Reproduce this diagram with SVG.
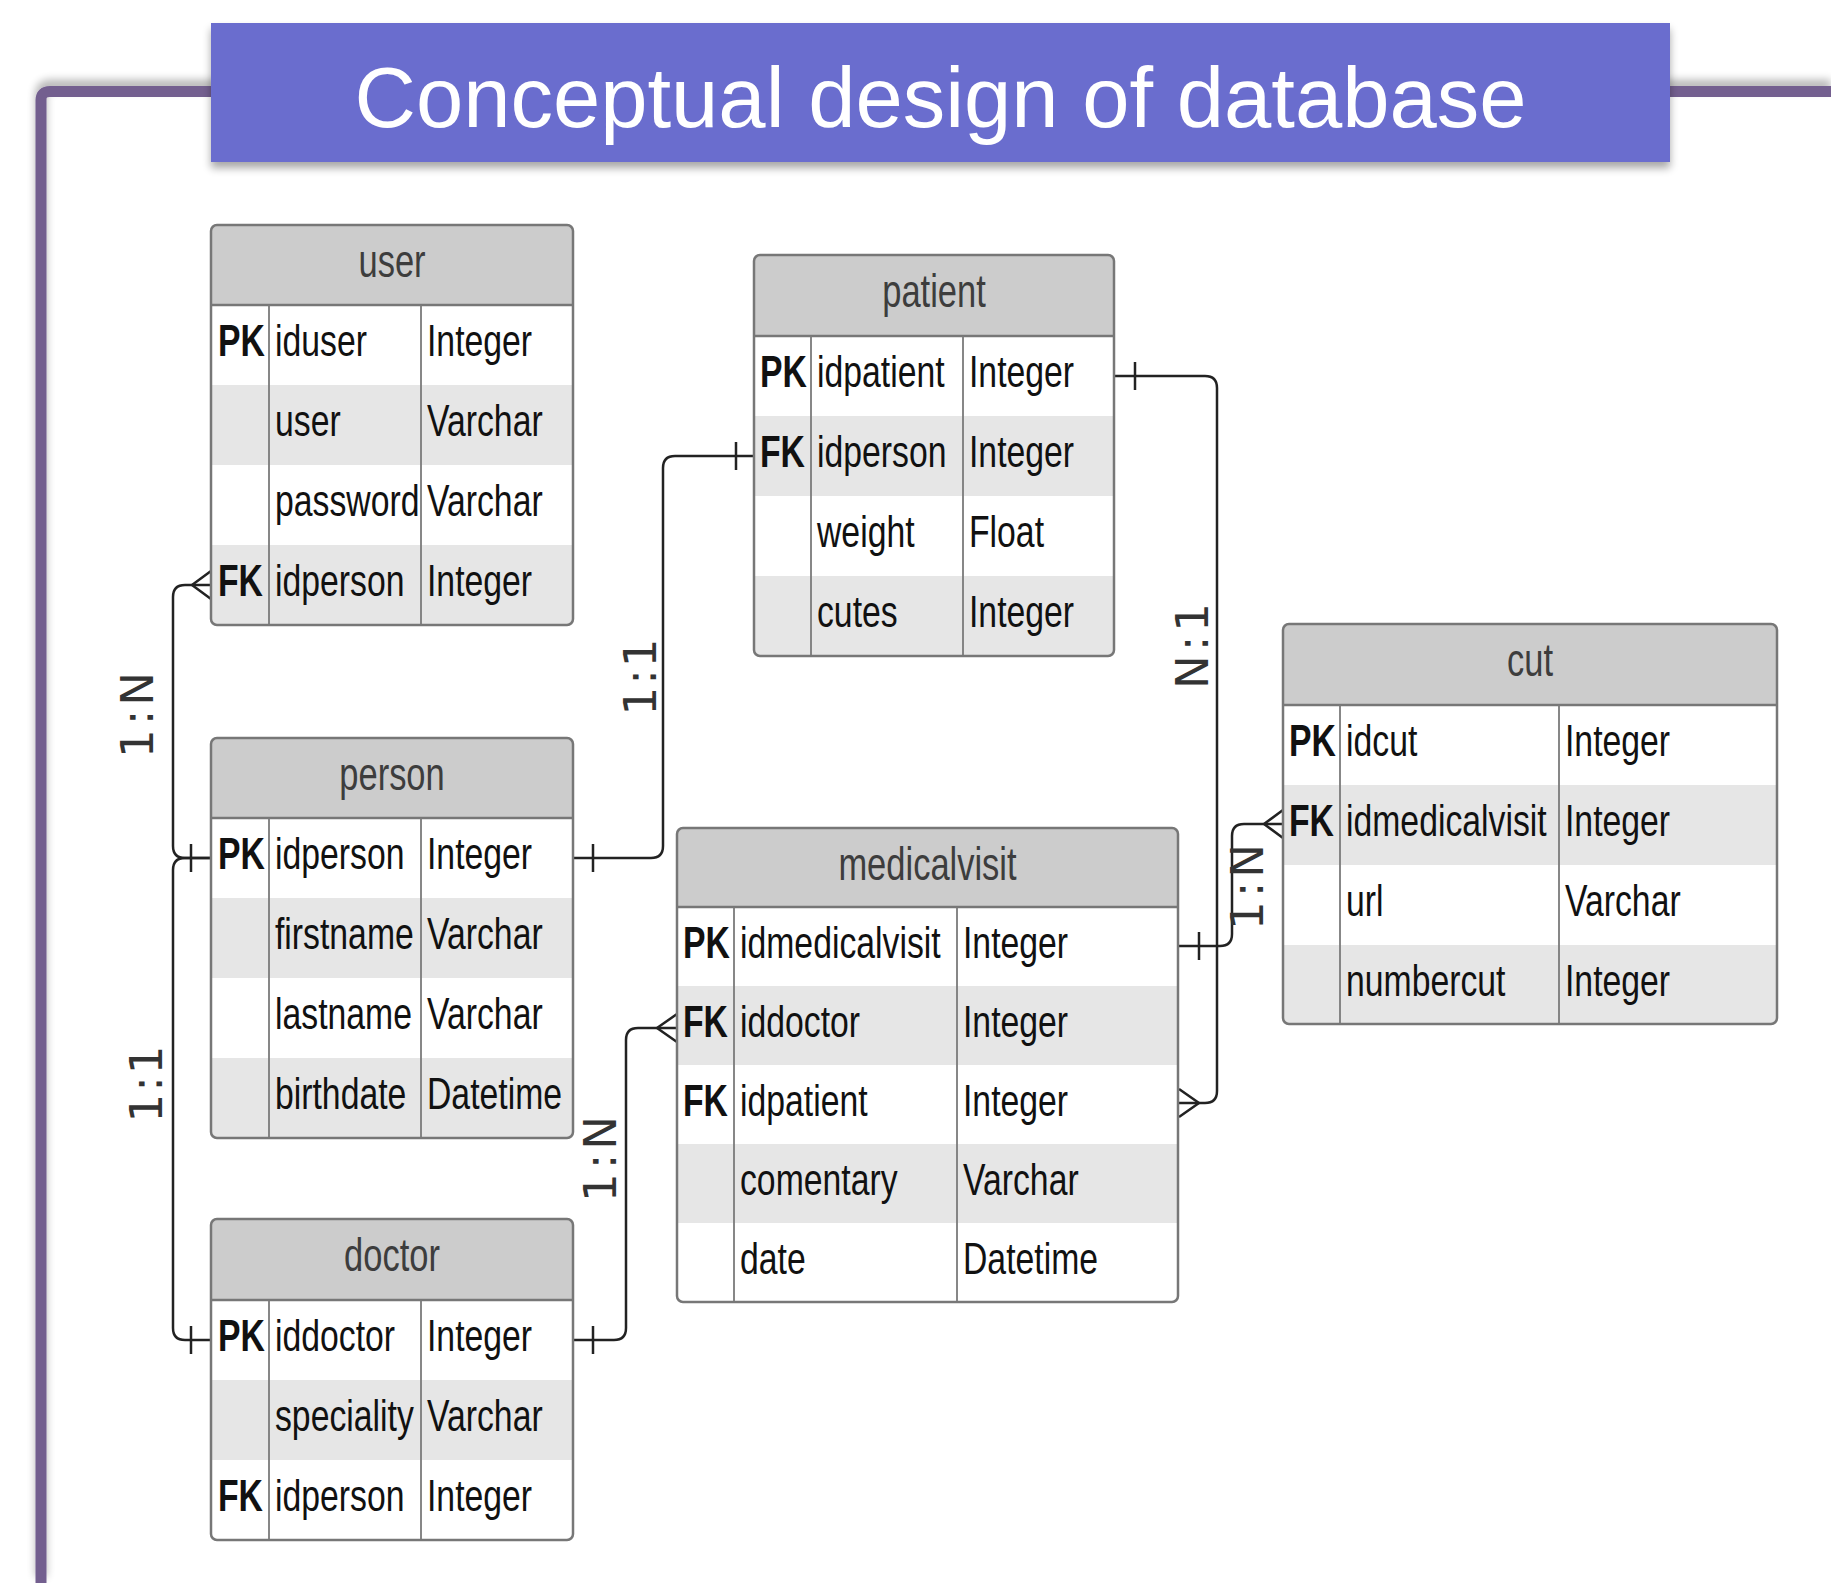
<svg xmlns="http://www.w3.org/2000/svg" width="1831" height="1583" viewBox="0 0 1831 1583">
<style>
.bg{fill:#ffffff}
.hd{fill:#cccccc}
.alt{fill:#e6e6e6}
.frame{fill:none;stroke:#777777;stroke-width:2.5}
.div{stroke:#7a7a7a;stroke-width:1.8;fill:none}
.hline{stroke:#777777;stroke-width:2.5}
.h{font-family:"Liberation Sans",Arial,sans-serif;font-size:46px;fill:#3d3d3d;text-anchor:middle}
.f{font-family:"Liberation Sans",Arial,sans-serif;font-size:45px;fill:#111111}
.k{font-family:"Liberation Sans",Arial,sans-serif;font-size:45px;font-weight:bold;fill:#111111}
.c{fill:none;stroke:#222222;stroke-width:2.5}
.lbl{font-family:"DejaVu Sans",sans-serif;font-size:45px;fill:#333333;text-anchor:middle}
</style>
<defs>
<filter id="sh" x="-5%" y="-30%" width="110%" height="170%">
<feGaussianBlur in="SourceAlpha" stdDeviation="4"/>
<feOffset dx="0" dy="6" result="b"/>
<feComponentTransfer><feFuncA type="linear" slope="0.35"/></feComponentTransfer>
<feMerge><feMergeNode/><feMergeNode in="SourceGraphic"/></feMerge>
</filter>
<filter id="sh2" x="-5%" y="-100%" width="110%" height="300%">
<feGaussianBlur in="SourceAlpha" stdDeviation="4"/>
<feOffset dx="0" dy="-6" result="b"/>
<feComponentTransfer><feFuncA type="linear" slope="0.3"/></feComponentTransfer>
<feMerge><feMergeNode/><feMergeNode in="SourceGraphic"/></feMerge>
</filter>
<clipPath id="cpUser"><rect x="211" y="225" width="362" height="400" rx="6"/></clipPath>
<clipPath id="cpPatient"><rect x="754" y="255" width="360" height="401" rx="6"/></clipPath>
<clipPath id="cpPerson"><rect x="211" y="738" width="362" height="400" rx="6"/></clipPath>
<clipPath id="cpDoctor"><rect x="211" y="1219" width="362" height="321" rx="6"/></clipPath>
<clipPath id="cpMv"><rect x="677" y="828" width="501" height="474" rx="6"/></clipPath>
<clipPath id="cpCut"><rect x="1283" y="624" width="494" height="400" rx="6"/></clipPath>
</defs>

<rect x="0" y="0" width="1831" height="1583" fill="#ffffff"/>

<!-- frame -->
<g id="frame">
<path d="M41,1583 V100 Q41,91.5 50,91.5 H1831" fill="none" stroke="#735f8f" stroke-width="11" filter="url(#sh2)"/>
</g>

<!-- title -->
<g id="title">
<rect x="211" y="23" width="1459" height="139" fill="#6a6dce" filter="url(#sh)"/>
<text x="940.5" y="127" font-family="'Liberation Sans',Arial,sans-serif" font-size="85" fill="#ffffff" text-anchor="middle">Conceptual design of database</text>
</g>

<!-- connectors -->
<g id="connectors">
<!-- user - person 1:N -->
<path class="c" d="M211,585 H185 Q173,585 173,597 V846 Q173,858 185,858 H211"/>
<path class="c" d="M192,585 L211,571 M192,585 L211,599"/>
<path class="c" d="M191,844 V872"/>
<!-- person - doctor 1:1 -->
<path class="c" d="M211,858 H185 Q173,858 173,870 V1328 Q173,1340 185,1340 H211"/>
<path class="c" d="M191,1326 V1354"/>
<!-- person - patient 1:1 -->
<path class="c" d="M573,858 H651 Q663,858 663,846 V468 Q663,456 675,456 H754"/>
<path class="c" d="M593,844 V872 M736,442 V470"/>
<!-- doctor - medicalvisit 1:N -->
<path class="c" d="M573,1340 H614 Q626,1340 626,1328 V1040 Q626,1028 638,1028 H677"/>
<path class="c" d="M593,1326 V1354"/>
<path class="c" d="M657,1028 L677,1014 M657,1028 L677,1042"/>
<!-- patient - medicalvisit N:1 -->
<path class="c" d="M1114,376 H1205 Q1217,376 1217,388 V1091 Q1217,1103 1205,1103 H1178"/>
<path class="c" d="M1135,362 V390"/>
<path class="c" d="M1199,1103 L1179,1089 M1199,1103 L1179,1117"/>
<!-- medicalvisit - cut 1:N -->
<path class="c" d="M1178,946 H1220 Q1232,946 1232,934 V836 Q1232,824 1244,824 H1283"/>
<path class="c" d="M1199,932 V960"/>
<path class="c" d="M1264,824 L1283,810 M1264,824 L1283,838"/>
<!-- labels -->
<text class="lbl" transform="translate(153,715) rotate(-90)" textLength="86" lengthAdjust="spacing">1:N</text>
<text class="lbl" transform="translate(162,1084) rotate(-90)" textLength="77" lengthAdjust="spacing">1:1</text>
<text class="lbl" transform="translate(656,677) rotate(-90)" textLength="77" lengthAdjust="spacing">1:1</text>
<text class="lbl" transform="translate(616,1159) rotate(-90)" textLength="86" lengthAdjust="spacing">1:N</text>
<text class="lbl" transform="translate(1208,646) rotate(-90)" textLength="86" lengthAdjust="spacing">N:1</text>
<text class="lbl" transform="translate(1263,887) rotate(-90)" textLength="86" lengthAdjust="spacing">1:N</text>
</g>

<!-- user -->
<g id="user">
<g clip-path="url(#cpUser)">
<rect class="bg" x="211" y="225" width="362" height="400"/>
<rect class="hd" x="211" y="225" width="362" height="80"/>
<rect class="alt" x="211" y="385" width="362" height="80"/>
<rect class="alt" x="211" y="545" width="362" height="80"/>
</g>
<line class="hline" x1="211" y1="305" x2="573" y2="305"/>
<line class="div" x1="269" y1="305" x2="269" y2="625"/>
<line class="div" x1="421" y1="305" x2="421" y2="625"/>
<rect class="frame" x="211" y="225" width="362" height="400" rx="6"/>
<text class="h" transform="translate(392,277) scale(0.75,1)">user</text>
<text class="k" transform="translate(218,356) scale(0.75,1)">PK</text>
<text class="f" transform="translate(275,356) scale(0.75,1)">iduser</text>
<text class="f" transform="translate(427,356) scale(0.75,1)">Integer</text>
<text class="f" transform="translate(275,436) scale(0.75,1)">user</text>
<text class="f" transform="translate(427,436) scale(0.75,1)">Varchar</text>
<text class="f" transform="translate(275,516) scale(0.75,1)">password</text>
<text class="f" transform="translate(427,516) scale(0.75,1)">Varchar</text>
<text class="k" transform="translate(218,596) scale(0.75,1)">FK</text>
<text class="f" transform="translate(275,596) scale(0.75,1)">idperson</text>
<text class="f" transform="translate(427,596) scale(0.75,1)">Integer</text>
</g>

<!-- patient -->
<g id="patient">
<g clip-path="url(#cpPatient)">
<rect class="bg" x="754" y="255" width="360" height="401"/>
<rect class="hd" x="754" y="255" width="360" height="81"/>
<rect class="alt" x="754" y="416" width="360" height="80"/>
<rect class="alt" x="754" y="576" width="360" height="80"/>
</g>
<line class="hline" x1="754" y1="336" x2="1114" y2="336"/>
<line class="div" x1="811" y1="336" x2="811" y2="656"/>
<line class="div" x1="963" y1="336" x2="963" y2="656"/>
<rect class="frame" x="754" y="255" width="360" height="401" rx="6"/>
<text class="h" transform="translate(934,307) scale(0.75,1)">patient</text>
<text class="k" transform="translate(760,387) scale(0.75,1)">PK</text>
<text class="f" transform="translate(817,387) scale(0.75,1)">idpatient</text>
<text class="f" transform="translate(969,387) scale(0.75,1)">Integer</text>
<text class="k" transform="translate(760,467) scale(0.75,1)">FK</text>
<text class="f" transform="translate(817,467) scale(0.75,1)">idperson</text>
<text class="f" transform="translate(969,467) scale(0.75,1)">Integer</text>
<text class="f" transform="translate(817,547) scale(0.75,1)">weight</text>
<text class="f" transform="translate(969,547) scale(0.75,1)">Float</text>
<text class="f" transform="translate(817,627) scale(0.75,1)">cutes</text>
<text class="f" transform="translate(969,627) scale(0.75,1)">Integer</text>
</g>

<!-- person -->
<g id="person">
<g clip-path="url(#cpPerson)">
<rect class="bg" x="211" y="738" width="362" height="400"/>
<rect class="hd" x="211" y="738" width="362" height="80"/>
<rect class="alt" x="211" y="898" width="362" height="80"/>
<rect class="alt" x="211" y="1058" width="362" height="80"/>
</g>
<line class="hline" x1="211" y1="818" x2="573" y2="818"/>
<line class="div" x1="269" y1="818" x2="269" y2="1138"/>
<line class="div" x1="421" y1="818" x2="421" y2="1138"/>
<rect class="frame" x="211" y="738" width="362" height="400" rx="6"/>
<text class="h" transform="translate(392,790) scale(0.75,1)">person</text>
<text class="k" transform="translate(218,869) scale(0.75,1)">PK</text>
<text class="f" transform="translate(275,869) scale(0.75,1)">idperson</text>
<text class="f" transform="translate(427,869) scale(0.75,1)">Integer</text>
<text class="f" transform="translate(275,949) scale(0.75,1)">firstname</text>
<text class="f" transform="translate(427,949) scale(0.75,1)">Varchar</text>
<text class="f" transform="translate(275,1029) scale(0.75,1)">lastname</text>
<text class="f" transform="translate(427,1029) scale(0.75,1)">Varchar</text>
<text class="f" transform="translate(275,1109) scale(0.75,1)">birthdate</text>
<text class="f" transform="translate(427,1109) scale(0.75,1)">Datetime</text>
</g>

<!-- doctor -->
<g id="doctor">
<g clip-path="url(#cpDoctor)">
<rect class="bg" x="211" y="1219" width="362" height="321"/>
<rect class="hd" x="211" y="1219" width="362" height="81"/>
<rect class="alt" x="211" y="1380" width="362" height="80"/>
</g>
<line class="hline" x1="211" y1="1300" x2="573" y2="1300"/>
<line class="div" x1="269" y1="1300" x2="269" y2="1540"/>
<line class="div" x1="421" y1="1300" x2="421" y2="1540"/>
<rect class="frame" x="211" y="1219" width="362" height="321" rx="6"/>
<text class="h" transform="translate(392,1271) scale(0.75,1)">doctor</text>
<text class="k" transform="translate(218,1351) scale(0.75,1)">PK</text>
<text class="f" transform="translate(275,1351) scale(0.75,1)">iddoctor</text>
<text class="f" transform="translate(427,1351) scale(0.75,1)">Integer</text>
<text class="f" transform="translate(275,1431) scale(0.75,1)">speciality</text>
<text class="f" transform="translate(427,1431) scale(0.75,1)">Varchar</text>
<text class="k" transform="translate(218,1511) scale(0.75,1)">FK</text>
<text class="f" transform="translate(275,1511) scale(0.75,1)">idperson</text>
<text class="f" transform="translate(427,1511) scale(0.75,1)">Integer</text>
</g>

<!-- medicalvisit -->
<g id="medicalvisit">
<g clip-path="url(#cpMv)">
<rect class="bg" x="677" y="828" width="501" height="474"/>
<rect class="hd" x="677" y="828" width="501" height="79"/>
<rect class="alt" x="677" y="986" width="501" height="79"/>
<rect class="alt" x="677" y="1144" width="501" height="79"/>
</g>
<line class="hline" x1="677" y1="907" x2="1178" y2="907"/>
<line class="div" x1="734" y1="907" x2="734" y2="1302"/>
<line class="div" x1="957" y1="907" x2="957" y2="1302"/>
<rect class="frame" x="677" y="828" width="501" height="474" rx="6"/>
<text class="h" transform="translate(927.5,880) scale(0.75,1)">medicalvisit</text>
<text class="k" transform="translate(683,958) scale(0.75,1)">PK</text>
<text class="f" transform="translate(740,958) scale(0.75,1)">idmedicalvisit</text>
<text class="f" transform="translate(963,958) scale(0.75,1)">Integer</text>
<text class="k" transform="translate(683,1037) scale(0.75,1)">FK</text>
<text class="f" transform="translate(740,1037) scale(0.75,1)">iddoctor</text>
<text class="f" transform="translate(963,1037) scale(0.75,1)">Integer</text>
<text class="k" transform="translate(683,1116) scale(0.75,1)">FK</text>
<text class="f" transform="translate(740,1116) scale(0.75,1)">idpatient</text>
<text class="f" transform="translate(963,1116) scale(0.75,1)">Integer</text>
<text class="f" transform="translate(740,1195) scale(0.75,1)">comentary</text>
<text class="f" transform="translate(963,1195) scale(0.75,1)">Varchar</text>
<text class="f" transform="translate(740,1274) scale(0.75,1)">date</text>
<text class="f" transform="translate(963,1274) scale(0.75,1)">Datetime</text>
</g>

<!-- cut -->
<g id="cut">
<g clip-path="url(#cpCut)">
<rect class="bg" x="1283" y="624" width="494" height="400"/>
<rect class="hd" x="1283" y="624" width="494" height="81"/>
<rect class="alt" x="1283" y="785" width="494" height="80"/>
<rect class="alt" x="1283" y="945" width="494" height="79"/>
</g>
<line class="hline" x1="1283" y1="705" x2="1777" y2="705"/>
<line class="div" x1="1340" y1="705" x2="1340" y2="1024"/>
<line class="div" x1="1559" y1="705" x2="1559" y2="1024"/>
<rect class="frame" x="1283" y="624" width="494" height="400" rx="6"/>
<text class="h" transform="translate(1530,676) scale(0.75,1)">cut</text>
<text class="k" transform="translate(1289,756) scale(0.75,1)">PK</text>
<text class="f" transform="translate(1346,756) scale(0.75,1)">idcut</text>
<text class="f" transform="translate(1565,756) scale(0.75,1)">Integer</text>
<text class="k" transform="translate(1289,836) scale(0.75,1)">FK</text>
<text class="f" transform="translate(1346,836) scale(0.75,1)">idmedicalvisit</text>
<text class="f" transform="translate(1565,836) scale(0.75,1)">Integer</text>
<text class="f" transform="translate(1346,916) scale(0.75,1)">url</text>
<text class="f" transform="translate(1565,916) scale(0.75,1)">Varchar</text>
<text class="f" transform="translate(1346,996) scale(0.75,1)">numbercut</text>
<text class="f" transform="translate(1565,996) scale(0.75,1)">Integer</text>
</g>
</svg>
